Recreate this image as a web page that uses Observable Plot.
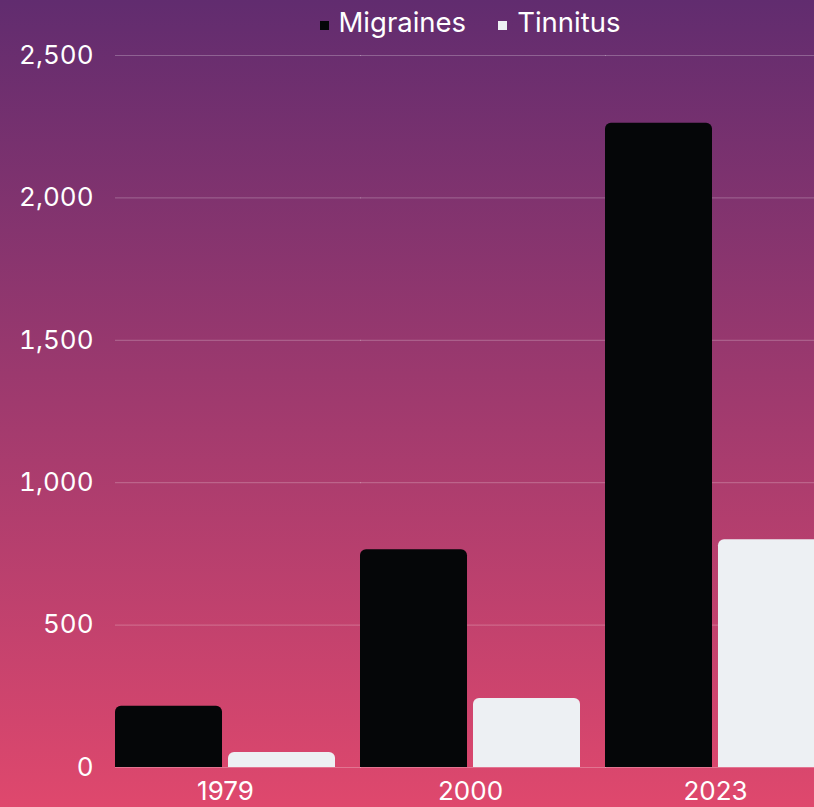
<!DOCTYPE html>
<html><head><meta charset="utf-8">
<script src="https://cdn.jsdelivr.net/npm/d3@7"></script>
<script src="https://cdn.jsdelivr.net/npm/@observablehq/plot@0.6"></script>
<style>
html,body{margin:0;padding:0;overflow:hidden;}
#chart{position:relative;width:814px;height:807px;overflow:hidden;background:linear-gradient(to bottom,#612c6f 0%,#df486d 100%);font-family:Inter,sans-serif;color:#fff;}
#legend{position:relative;height:44px;margin-left:115px;width:710px;display:flex;justify-content:center;align-items:flex-start;}
.item{display:flex;align-items:center;font-size:27.5px;line-height:1;margin-top:9px;}
.item + .item{margin-left:32px;}
.sw{width:9px;height:9px;margin-right:10px;margin-top:5px;}
#plot svg{display:block;}
</style></head><body><div id="chart"><div id="legend"></div><div id="plot"></div></div>
<script>
const years = ["1979", "2000", "2023"];
const series = ["Migraines", "Tinnitus"];
const migraines = [215, 765, 2262];
const tinnitus = [53, 242, 800];
const colors = ["#050608", "#edf0f3"];
const yTicks = [0, 500, 1000, 1500, 2000, 2500];

const data = years.flatMap((year, i) => [
  {year, series: series[0], value: migraines[i]},
  {year, series: series[1], value: tinnitus[i]}
]);

const legend = document.getElementById("legend");
series.forEach((s, i) => {
  const it = document.createElement("div");
  it.className = "item";
  const sw = document.createElement("div");
  sw.className = "sw";
  sw.style.background = colors[i];
  it.appendChild(sw);
  it.appendChild(document.createTextNode(s));
  legend.appendChild(it);
});

const plot = Plot.plot({
  width: 814,
  height: 763,
  marginTop: 11,
  marginBottom: 40,
  marginLeft: 115,
  marginRight: -11,
  style: {background: "transparent", color: "#fff", fontFamily: "Inter, sans-serif", fontSize: "26px", overflow: "visible"},
  fx: {domain: years, paddingInner: 0.102, paddingOuter: 0, round: false, label: null, axis: "bottom", tickSize: 0, tickPadding: 14},
  x: {domain: series, paddingInner: 0.053, paddingOuter: 0, round: false, axis: null},
  y: {domain: [0, 2500], ticks: yTicks, tickSize: 0, tickPadding: 22, label: null, tickFormat: d3.format(",")},
  color: {domain: series, range: colors},
  marks: [
    Plot.ruleY(yTicks, {stroke: "#fff", strokeOpacity: 0.25, insetRight: -26}),
    Plot.barY(data, {fx: "year", x: "series", y: "value", fill: "series", rx: 6, insetBottom: -8, clip: true})
  ]
});
document.getElementById("plot").appendChild(plot);
</script>
</body></html>
